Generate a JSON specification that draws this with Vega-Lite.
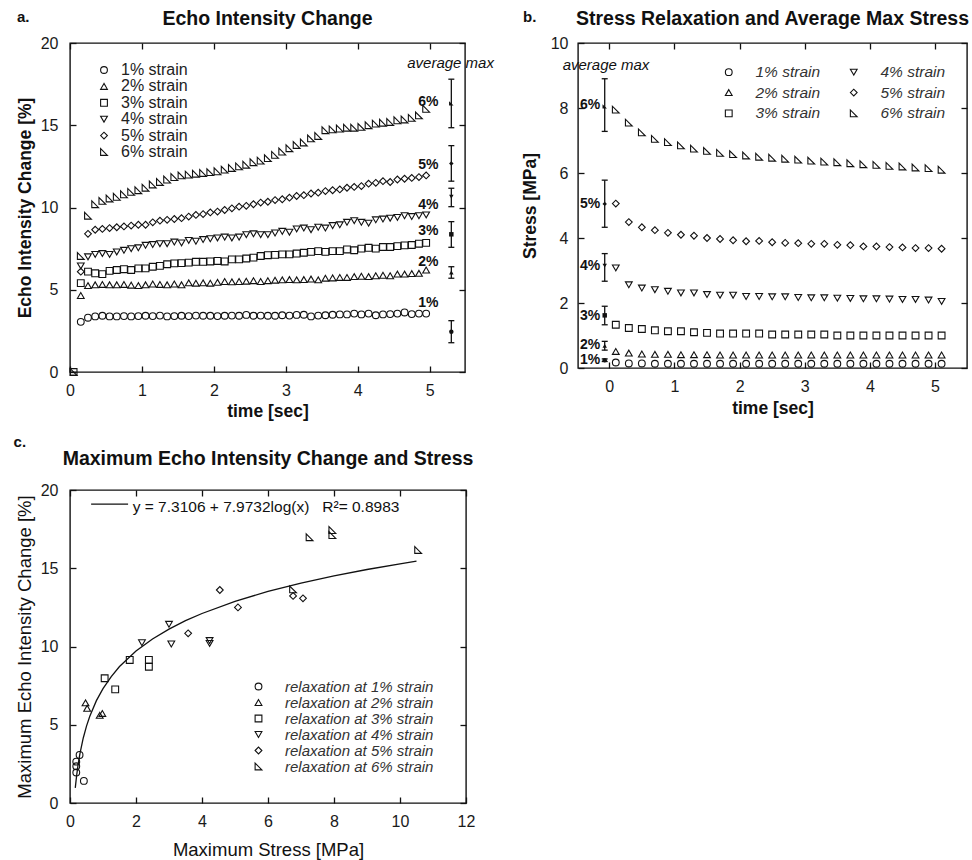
{
"$schema":"https://vega.github.io/schema/vega-lite/v6.json",
"padding":{"left":12,"top":8,"right":0,"bottom":0},
"config":{
"font":"Liberation Sans",
"view":{"stroke":"#111","strokeWidth":1.4},
"axis":{"grid":false,"domain":false,"ticks":true,"tickSize":-6,"tickColor":"#111","tickWidth":1.3,"labelFontSize":16,"labelColor":"#1a1a1a","labelPadding":16,"labelFlush":false,"titleFontSize":17.5,"titleColor":"#111","titleFontWeight":"bold"},
"title":{"fontSize":19.5,"fontWeight":"bold","color":"#111","font":"Liberation Sans"},
"legend":{"title":null,"orient":"none","padding":0,"symbolSize":46,"symbolStrokeWidth":1.1,"symbolStrokeColor":"#111","labelFont":"Liberation Sans"}
},
"datasets":{
"echo":[
{"t":0.05,"v":0,"s":"3% strain"},{"t":0.05,"v":0,"s":"6% strain"},
{"t":0.15,"v":3.05,"s":"1% strain"},{"t":0.25,"v":3.3,"s":"1% strain"},{"t":0.35,"v":3.38,"s":"1% strain"},{"t":0.45,"v":3.42,"s":"1% strain"},{"t":0.55,"v":3.38,"s":"1% strain"},{"t":0.65,"v":3.38,"s":"1% strain"},{"t":0.75,"v":3.4,"s":"1% strain"},{"t":0.85,"v":3.38,"s":"1% strain"},{"t":0.95,"v":3.4,"s":"1% strain"},{"t":1.05,"v":3.42,"s":"1% strain"},
{"t":1.15,"v":3.4,"s":"1% strain"},{"t":1.25,"v":3.43,"s":"1% strain"},{"t":1.35,"v":3.38,"s":"1% strain"},{"t":1.45,"v":3.4,"s":"1% strain"},{"t":1.55,"v":3.42,"s":"1% strain"},{"t":1.65,"v":3.4,"s":"1% strain"},{"t":1.75,"v":3.43,"s":"1% strain"},{"t":1.85,"v":3.42,"s":"1% strain"},{"t":1.95,"v":3.42,"s":"1% strain"},{"t":2.05,"v":3.4,"s":"1% strain"},
{"t":2.15,"v":3.42,"s":"1% strain"},{"t":2.25,"v":3.43,"s":"1% strain"},{"t":2.35,"v":3.42,"s":"1% strain"},{"t":2.45,"v":3.47,"s":"1% strain"},{"t":2.55,"v":3.42,"s":"1% strain"},{"t":2.65,"v":3.43,"s":"1% strain"},{"t":2.75,"v":3.42,"s":"1% strain"},{"t":2.85,"v":3.42,"s":"1% strain"},{"t":2.95,"v":3.45,"s":"1% strain"},{"t":3.05,"v":3.43,"s":"1% strain"},
{"t":3.15,"v":3.47,"s":"1% strain"},{"t":3.25,"v":3.48,"s":"1% strain"},{"t":3.35,"v":3.38,"s":"1% strain"},{"t":3.45,"v":3.43,"s":"1% strain"},{"t":3.55,"v":3.45,"s":"1% strain"},{"t":3.65,"v":3.48,"s":"1% strain"},{"t":3.75,"v":3.5,"s":"1% strain"},{"t":3.85,"v":3.5,"s":"1% strain"},{"t":3.95,"v":3.55,"s":"1% strain"},{"t":4.05,"v":3.5,"s":"1% strain"},
{"t":4.15,"v":3.55,"s":"1% strain"},{"t":4.25,"v":3.45,"s":"1% strain"},{"t":4.35,"v":3.5,"s":"1% strain"},{"t":4.45,"v":3.52,"s":"1% strain"},{"t":4.55,"v":3.55,"s":"1% strain"},{"t":4.65,"v":3.62,"s":"1% strain"},{"t":4.75,"v":3.52,"s":"1% strain"},{"t":4.85,"v":3.55,"s":"1% strain"},{"t":4.95,"v":3.55,"s":"1% strain"},
{"t":0.15,"v":4.65,"s":"2% strain"},{"t":0.25,"v":5.25,"s":"2% strain"},{"t":0.35,"v":5.3,"s":"2% strain"},{"t":0.45,"v":5.32,"s":"2% strain"},{"t":0.55,"v":5.3,"s":"2% strain"},{"t":0.65,"v":5.3,"s":"2% strain"},{"t":0.75,"v":5.32,"s":"2% strain"},{"t":0.85,"v":5.28,"s":"2% strain"},{"t":0.95,"v":5.25,"s":"2% strain"},{"t":1.05,"v":5.3,"s":"2% strain"},
{"t":1.15,"v":5.35,"s":"2% strain"},{"t":1.25,"v":5.32,"s":"2% strain"},{"t":1.35,"v":5.3,"s":"2% strain"},{"t":1.45,"v":5.35,"s":"2% strain"},{"t":1.55,"v":5.3,"s":"2% strain"},{"t":1.65,"v":5.42,"s":"2% strain"},{"t":1.75,"v":5.4,"s":"2% strain"},{"t":1.85,"v":5.42,"s":"2% strain"},{"t":1.95,"v":5.4,"s":"2% strain"},{"t":2.05,"v":5.45,"s":"2% strain"},
{"t":2.15,"v":5.5,"s":"2% strain"},{"t":2.25,"v":5.48,"s":"2% strain"},{"t":2.35,"v":5.5,"s":"2% strain"},{"t":2.45,"v":5.52,"s":"2% strain"},{"t":2.55,"v":5.55,"s":"2% strain"},{"t":2.65,"v":5.5,"s":"2% strain"},{"t":2.75,"v":5.55,"s":"2% strain"},{"t":2.85,"v":5.58,"s":"2% strain"},{"t":2.95,"v":5.6,"s":"2% strain"},{"t":3.05,"v":5.62,"s":"2% strain"},
{"t":3.15,"v":5.6,"s":"2% strain"},{"t":3.25,"v":5.62,"s":"2% strain"},{"t":3.35,"v":5.65,"s":"2% strain"},{"t":3.45,"v":5.6,"s":"2% strain"},{"t":3.55,"v":5.7,"s":"2% strain"},{"t":3.65,"v":5.72,"s":"2% strain"},{"t":3.75,"v":5.75,"s":"2% strain"},{"t":3.85,"v":5.75,"s":"2% strain"},{"t":3.95,"v":5.8,"s":"2% strain"},{"t":4.05,"v":5.82,"s":"2% strain"},
{"t":4.15,"v":5.8,"s":"2% strain"},{"t":4.25,"v":5.85,"s":"2% strain"},{"t":4.35,"v":5.88,"s":"2% strain"},{"t":4.45,"v":5.85,"s":"2% strain"},{"t":4.55,"v":5.95,"s":"2% strain"},{"t":4.65,"v":5.95,"s":"2% strain"},{"t":4.75,"v":5.98,"s":"2% strain"},{"t":4.85,"v":6.0,"s":"2% strain"},{"t":4.95,"v":6.2,"s":"2% strain"},
{"t":0.15,"v":5.4,"s":"3% strain"},{"t":0.25,"v":6.1,"s":"3% strain"},{"t":0.35,"v":6.0,"s":"3% strain"},{"t":0.45,"v":5.95,"s":"3% strain"},{"t":0.55,"v":6.15,"s":"3% strain"},{"t":0.65,"v":6.2,"s":"3% strain"},{"t":0.75,"v":6.25,"s":"3% strain"},{"t":0.85,"v":6.2,"s":"3% strain"},{"t":0.95,"v":6.3,"s":"3% strain"},{"t":1.05,"v":6.3,"s":"3% strain"},
{"t":1.15,"v":6.4,"s":"3% strain"},{"t":1.25,"v":6.45,"s":"3% strain"},{"t":1.35,"v":6.55,"s":"3% strain"},{"t":1.45,"v":6.6,"s":"3% strain"},{"t":1.55,"v":6.62,"s":"3% strain"},{"t":1.65,"v":6.65,"s":"3% strain"},{"t":1.75,"v":6.7,"s":"3% strain"},{"t":1.85,"v":6.7,"s":"3% strain"},{"t":1.95,"v":6.72,"s":"3% strain"},{"t":2.05,"v":6.75,"s":"3% strain"},
{"t":2.15,"v":6.72,"s":"3% strain"},{"t":2.25,"v":6.85,"s":"3% strain"},{"t":2.35,"v":6.85,"s":"3% strain"},{"t":2.45,"v":6.9,"s":"3% strain"},{"t":2.55,"v":6.95,"s":"3% strain"},{"t":2.65,"v":7.05,"s":"3% strain"},{"t":2.75,"v":7.1,"s":"3% strain"},{"t":2.85,"v":7.12,"s":"3% strain"},{"t":2.95,"v":7.15,"s":"3% strain"},{"t":3.05,"v":7.15,"s":"3% strain"},
{"t":3.15,"v":7.2,"s":"3% strain"},{"t":3.25,"v":7.25,"s":"3% strain"},{"t":3.35,"v":7.3,"s":"3% strain"},{"t":3.45,"v":7.35,"s":"3% strain"},{"t":3.55,"v":7.3,"s":"3% strain"},{"t":3.65,"v":7.35,"s":"3% strain"},{"t":3.75,"v":7.35,"s":"3% strain"},{"t":3.85,"v":7.45,"s":"3% strain"},{"t":3.95,"v":7.4,"s":"3% strain"},{"t":4.05,"v":7.5,"s":"3% strain"},
{"t":4.15,"v":7.55,"s":"3% strain"},{"t":4.25,"v":7.5,"s":"3% strain"},{"t":4.35,"v":7.6,"s":"3% strain"},{"t":4.45,"v":7.6,"s":"3% strain"},{"t":4.55,"v":7.65,"s":"3% strain"},{"t":4.65,"v":7.7,"s":"3% strain"},{"t":4.75,"v":7.72,"s":"3% strain"},{"t":4.85,"v":7.8,"s":"3% strain"},{"t":4.95,"v":7.85,"s":"3% strain"},
{"t":0.15,"v":6.45,"s":"4% strain"},{"t":0.25,"v":7.0,"s":"4% strain"},{"t":0.35,"v":7.15,"s":"4% strain"},{"t":0.45,"v":7.2,"s":"4% strain"},{"t":0.55,"v":7.15,"s":"4% strain"},{"t":0.65,"v":7.3,"s":"4% strain"},{"t":0.75,"v":7.4,"s":"4% strain"},{"t":0.85,"v":7.5,"s":"4% strain"},{"t":0.95,"v":7.55,"s":"4% strain"},{"t":1.05,"v":7.7,"s":"4% strain"},
{"t":1.15,"v":7.75,"s":"4% strain"},{"t":1.25,"v":7.8,"s":"4% strain"},{"t":1.35,"v":7.8,"s":"4% strain"},{"t":1.45,"v":7.9,"s":"4% strain"},{"t":1.55,"v":7.85,"s":"4% strain"},{"t":1.65,"v":8.0,"s":"4% strain"},{"t":1.75,"v":7.95,"s":"4% strain"},{"t":1.85,"v":8.05,"s":"4% strain"},{"t":1.95,"v":8.1,"s":"4% strain"},{"t":2.05,"v":8.15,"s":"4% strain"},
{"t":2.15,"v":8.2,"s":"4% strain"},{"t":2.25,"v":8.15,"s":"4% strain"},{"t":2.35,"v":8.2,"s":"4% strain"},{"t":2.45,"v":8.35,"s":"4% strain"},{"t":2.55,"v":8.4,"s":"4% strain"},{"t":2.65,"v":8.35,"s":"4% strain"},{"t":2.75,"v":8.35,"s":"4% strain"},{"t":2.85,"v":8.45,"s":"4% strain"},{"t":2.95,"v":8.55,"s":"4% strain"},{"t":3.05,"v":8.5,"s":"4% strain"},
{"t":3.15,"v":8.7,"s":"4% strain"},{"t":3.25,"v":8.75,"s":"4% strain"},{"t":3.35,"v":8.65,"s":"4% strain"},{"t":3.45,"v":8.8,"s":"4% strain"},{"t":3.55,"v":8.75,"s":"4% strain"},{"t":3.65,"v":8.9,"s":"4% strain"},{"t":3.75,"v":8.95,"s":"4% strain"},{"t":3.85,"v":9.1,"s":"4% strain"},{"t":3.95,"v":9.2,"s":"4% strain"},{"t":4.05,"v":9.1,"s":"4% strain"},
{"t":4.15,"v":9.05,"s":"4% strain"},{"t":4.25,"v":9.25,"s":"4% strain"},{"t":4.35,"v":9.3,"s":"4% strain"},{"t":4.45,"v":9.35,"s":"4% strain"},{"t":4.55,"v":9.4,"s":"4% strain"},{"t":4.65,"v":9.5,"s":"4% strain"},{"t":4.75,"v":9.45,"s":"4% strain"},{"t":4.85,"v":9.5,"s":"4% strain"},{"t":4.95,"v":9.55,"s":"4% strain"},
{"t":0.15,"v":6.1,"s":"5% strain"},{"t":0.25,"v":8.4,"s":"5% strain"},{"t":0.35,"v":8.65,"s":"5% strain"},{"t":0.45,"v":8.7,"s":"5% strain"},{"t":0.55,"v":8.75,"s":"5% strain"},{"t":0.65,"v":8.8,"s":"5% strain"},{"t":0.75,"v":8.85,"s":"5% strain"},{"t":0.85,"v":8.9,"s":"5% strain"},{"t":0.95,"v":8.95,"s":"5% strain"},{"t":1.05,"v":8.95,"s":"5% strain"},
{"t":1.15,"v":9.1,"s":"5% strain"},{"t":1.25,"v":9.2,"s":"5% strain"},{"t":1.35,"v":9.25,"s":"5% strain"},{"t":1.45,"v":9.3,"s":"5% strain"},{"t":1.55,"v":9.35,"s":"5% strain"},{"t":1.65,"v":9.45,"s":"5% strain"},{"t":1.75,"v":9.55,"s":"5% strain"},{"t":1.85,"v":9.6,"s":"5% strain"},{"t":1.95,"v":9.7,"s":"5% strain"},{"t":2.05,"v":9.75,"s":"5% strain"},
{"t":2.15,"v":9.85,"s":"5% strain"},{"t":2.25,"v":9.95,"s":"5% strain"},{"t":2.35,"v":10.05,"s":"5% strain"},{"t":2.45,"v":10.1,"s":"5% strain"},{"t":2.55,"v":10.2,"s":"5% strain"},{"t":2.65,"v":10.3,"s":"5% strain"},{"t":2.75,"v":10.35,"s":"5% strain"},{"t":2.85,"v":10.45,"s":"5% strain"},{"t":2.95,"v":10.5,"s":"5% strain"},{"t":3.05,"v":10.6,"s":"5% strain"},
{"t":3.15,"v":10.7,"s":"5% strain"},{"t":3.25,"v":10.75,"s":"5% strain"},{"t":3.35,"v":10.85,"s":"5% strain"},{"t":3.45,"v":10.9,"s":"5% strain"},{"t":3.55,"v":11.0,"s":"5% strain"},{"t":3.65,"v":11.05,"s":"5% strain"},{"t":3.75,"v":11.1,"s":"5% strain"},{"t":3.85,"v":11.2,"s":"5% strain"},{"t":3.95,"v":11.25,"s":"5% strain"},{"t":4.05,"v":11.3,"s":"5% strain"},
{"t":4.15,"v":11.45,"s":"5% strain"},{"t":4.25,"v":11.5,"s":"5% strain"},{"t":4.35,"v":11.6,"s":"5% strain"},{"t":4.45,"v":11.55,"s":"5% strain"},{"t":4.55,"v":11.7,"s":"5% strain"},{"t":4.65,"v":11.75,"s":"5% strain"},{"t":4.75,"v":11.8,"s":"5% strain"},{"t":4.85,"v":11.85,"s":"5% strain"},{"t":4.95,"v":11.95,"s":"5% strain"},
{"t":0.15,"v":7.05,"s":"6% strain"},{"t":0.25,"v":9.5,"s":"6% strain"},{"t":0.35,"v":10.2,"s":"6% strain"},{"t":0.45,"v":10.4,"s":"6% strain"},{"t":0.55,"v":10.55,"s":"6% strain"},{"t":0.65,"v":10.65,"s":"6% strain"},{"t":0.75,"v":10.8,"s":"6% strain"},{"t":0.85,"v":10.95,"s":"6% strain"},{"t":0.95,"v":11.05,"s":"6% strain"},{"t":1.05,"v":11.2,"s":"6% strain"},
{"t":1.15,"v":11.4,"s":"6% strain"},{"t":1.25,"v":11.55,"s":"6% strain"},{"t":1.35,"v":11.7,"s":"6% strain"},{"t":1.45,"v":11.85,"s":"6% strain"},{"t":1.55,"v":11.95,"s":"6% strain"},{"t":1.65,"v":12.0,"s":"6% strain"},{"t":1.75,"v":12.05,"s":"6% strain"},{"t":1.85,"v":12.1,"s":"6% strain"},{"t":1.95,"v":12.15,"s":"6% strain"},{"t":2.05,"v":12.2,"s":"6% strain"},
{"t":2.15,"v":12.3,"s":"6% strain"},{"t":2.25,"v":12.4,"s":"6% strain"},{"t":2.35,"v":12.5,"s":"6% strain"},{"t":2.45,"v":12.6,"s":"6% strain"},{"t":2.55,"v":12.75,"s":"6% strain"},{"t":2.65,"v":12.85,"s":"6% strain"},{"t":2.75,"v":13.0,"s":"6% strain"},{"t":2.85,"v":13.2,"s":"6% strain"},{"t":2.95,"v":13.4,"s":"6% strain"},{"t":3.05,"v":13.6,"s":"6% strain"},
{"t":3.15,"v":13.8,"s":"6% strain"},{"t":3.25,"v":13.95,"s":"6% strain"},{"t":3.35,"v":14.2,"s":"6% strain"},{"t":3.45,"v":14.35,"s":"6% strain"},{"t":3.55,"v":14.7,"s":"6% strain"},{"t":3.65,"v":14.75,"s":"6% strain"},{"t":3.75,"v":14.8,"s":"6% strain"},{"t":3.85,"v":14.85,"s":"6% strain"},{"t":3.95,"v":14.85,"s":"6% strain"},{"t":4.05,"v":14.9,"s":"6% strain"},
{"t":4.15,"v":15.0,"s":"6% strain"},{"t":4.25,"v":15.1,"s":"6% strain"},{"t":4.35,"v":15.15,"s":"6% strain"},{"t":4.45,"v":15.2,"s":"6% strain"},{"t":4.55,"v":15.3,"s":"6% strain"},{"t":4.65,"v":15.35,"s":"6% strain"},{"t":4.75,"v":15.45,"s":"6% strain"},{"t":4.85,"v":15.6,"s":"6% strain"},{"t":4.95,"v":16.0,"s":"6% strain"}
],
"echoMax":[
{"s":"1% strain","lab":"1%","m":2.45,"lo":1.78,"hi":3.12,"ly":4.18},
{"s":"2% strain","lab":"2%","m":6.05,"lo":5.7,"hi":6.4,"ly":6.71},
{"s":"3% strain","lab":"3%","m":8.37,"lo":7.58,"hi":9.14,"ly":8.59},
{"s":"4% strain","lab":"4%","m":10.65,"lo":10.05,"hi":11.17,"ly":10.15},
{"s":"5% strain","lab":"5%","m":12.68,"lo":11.6,"hi":13.76,"ly":12.58},
{"s":"6% strain","lab":"6%","m":16.33,"lo":14.85,"hi":17.8,"ly":16.43}
],
"stress":[
{"t":0.1,"v":0.17,"s":"1% strain"},{"t":0.3,"v":0.14,"s":"1% strain"},{"t":0.5,"v":0.14,"s":"1% strain"},{"t":0.7,"v":0.13,"s":"1% strain"},{"t":0.9,"v":0.13,"s":"1% strain"},{"t":1.1,"v":0.13,"s":"1% strain"},{"t":1.3,"v":0.13,"s":"1% strain"},{"t":1.5,"v":0.13,"s":"1% strain"},{"t":1.7,"v":0.13,"s":"1% strain"},{"t":1.9,"v":0.13,"s":"1% strain"},{"t":2.1,"v":0.13,"s":"1% strain"},{"t":2.3,"v":0.13,"s":"1% strain"},{"t":2.5,"v":0.13,"s":"1% strain"},{"t":2.7,"v":0.13,"s":"1% strain"},{"t":2.9,"v":0.13,"s":"1% strain"},{"t":3.1,"v":0.13,"s":"1% strain"},{"t":3.3,"v":0.13,"s":"1% strain"},{"t":3.5,"v":0.13,"s":"1% strain"},{"t":3.7,"v":0.13,"s":"1% strain"},{"t":3.9,"v":0.13,"s":"1% strain"},{"t":4.1,"v":0.13,"s":"1% strain"},{"t":4.3,"v":0.13,"s":"1% strain"},{"t":4.5,"v":0.13,"s":"1% strain"},{"t":4.7,"v":0.13,"s":"1% strain"},{"t":4.9,"v":0.13,"s":"1% strain"},{"t":5.1,"v":0.13,"s":"1% strain"},
{"t":0.1,"v":0.51,"s":"2% strain"},{"t":0.3,"v":0.46,"s":"2% strain"},{"t":0.5,"v":0.43,"s":"2% strain"},{"t":0.7,"v":0.42,"s":"2% strain"},{"t":0.9,"v":0.42,"s":"2% strain"},{"t":1.1,"v":0.41,"s":"2% strain"},{"t":1.3,"v":0.41,"s":"2% strain"},{"t":1.5,"v":0.41,"s":"2% strain"},{"t":1.7,"v":0.4,"s":"2% strain"},{"t":1.9,"v":0.4,"s":"2% strain"},{"t":2.1,"v":0.4,"s":"2% strain"},{"t":2.3,"v":0.4,"s":"2% strain"},{"t":2.5,"v":0.4,"s":"2% strain"},{"t":2.7,"v":0.4,"s":"2% strain"},{"t":2.9,"v":0.4,"s":"2% strain"},{"t":3.1,"v":0.4,"s":"2% strain"},{"t":3.3,"v":0.4,"s":"2% strain"},{"t":3.5,"v":0.4,"s":"2% strain"},{"t":3.7,"v":0.4,"s":"2% strain"},{"t":3.9,"v":0.4,"s":"2% strain"},{"t":4.1,"v":0.4,"s":"2% strain"},{"t":4.3,"v":0.4,"s":"2% strain"},{"t":4.5,"v":0.4,"s":"2% strain"},{"t":4.7,"v":0.4,"s":"2% strain"},{"t":4.9,"v":0.4,"s":"2% strain"},{"t":5.1,"v":0.4,"s":"2% strain"},
{"t":0.1,"v":1.33,"s":"3% strain"},{"t":0.3,"v":1.23,"s":"3% strain"},{"t":0.5,"v":1.2,"s":"3% strain"},{"t":0.7,"v":1.16,"s":"3% strain"},{"t":0.9,"v":1.13,"s":"3% strain"},{"t":1.1,"v":1.13,"s":"3% strain"},{"t":1.3,"v":1.1,"s":"3% strain"},{"t":1.5,"v":1.08,"s":"3% strain"},{"t":1.7,"v":1.06,"s":"3% strain"},{"t":1.9,"v":1.06,"s":"3% strain"},{"t":2.1,"v":1.06,"s":"3% strain"},{"t":2.3,"v":1.06,"s":"3% strain"},{"t":2.5,"v":1.03,"s":"3% strain"},{"t":2.7,"v":1.03,"s":"3% strain"},{"t":2.9,"v":1.03,"s":"3% strain"},{"t":3.1,"v":1.03,"s":"3% strain"},{"t":3.3,"v":1.03,"s":"3% strain"},{"t":3.5,"v":1.0,"s":"3% strain"},{"t":3.7,"v":1.0,"s":"3% strain"},{"t":3.9,"v":1.0,"s":"3% strain"},{"t":4.1,"v":1.0,"s":"3% strain"},{"t":4.3,"v":1.0,"s":"3% strain"},{"t":4.5,"v":1.0,"s":"3% strain"},{"t":4.7,"v":1.0,"s":"3% strain"},{"t":4.9,"v":1.0,"s":"3% strain"},{"t":5.1,"v":1.0,"s":"3% strain"},
{"t":0.1,"v":3.08,"s":"4% strain"},{"t":0.3,"v":2.56,"s":"4% strain"},{"t":0.5,"v":2.46,"s":"4% strain"},{"t":0.7,"v":2.41,"s":"4% strain"},{"t":0.9,"v":2.36,"s":"4% strain"},{"t":1.1,"v":2.31,"s":"4% strain"},{"t":1.3,"v":2.31,"s":"4% strain"},{"t":1.5,"v":2.26,"s":"4% strain"},{"t":1.7,"v":2.24,"s":"4% strain"},{"t":1.9,"v":2.24,"s":"4% strain"},{"t":2.1,"v":2.2,"s":"4% strain"},{"t":2.3,"v":2.2,"s":"4% strain"},{"t":2.5,"v":2.19,"s":"4% strain"},{"t":2.7,"v":2.19,"s":"4% strain"},{"t":2.9,"v":2.17,"s":"4% strain"},{"t":3.1,"v":2.16,"s":"4% strain"},{"t":3.3,"v":2.16,"s":"4% strain"},{"t":3.5,"v":2.15,"s":"4% strain"},{"t":3.7,"v":2.14,"s":"4% strain"},{"t":3.9,"v":2.13,"s":"4% strain"},{"t":4.1,"v":2.13,"s":"4% strain"},{"t":4.3,"v":2.12,"s":"4% strain"},{"t":4.5,"v":2.11,"s":"4% strain"},{"t":4.7,"v":2.11,"s":"4% strain"},{"t":4.9,"v":2.09,"s":"4% strain"},{"t":5.1,"v":2.05,"s":"4% strain"},
{"t":0.1,"v":5.06,"s":"5% strain"},{"t":0.3,"v":4.49,"s":"5% strain"},{"t":0.5,"v":4.33,"s":"5% strain"},{"t":0.7,"v":4.24,"s":"5% strain"},{"t":0.9,"v":4.16,"s":"5% strain"},{"t":1.1,"v":4.1,"s":"5% strain"},{"t":1.3,"v":4.07,"s":"5% strain"},{"t":1.5,"v":4.0,"s":"5% strain"},{"t":1.7,"v":3.97,"s":"5% strain"},{"t":1.9,"v":3.93,"s":"5% strain"},{"t":2.1,"v":3.9,"s":"5% strain"},{"t":2.3,"v":3.91,"s":"5% strain"},{"t":2.5,"v":3.87,"s":"5% strain"},{"t":2.7,"v":3.85,"s":"5% strain"},{"t":2.9,"v":3.84,"s":"5% strain"},{"t":3.1,"v":3.82,"s":"5% strain"},{"t":3.3,"v":3.82,"s":"5% strain"},{"t":3.5,"v":3.79,"s":"5% strain"},{"t":3.7,"v":3.78,"s":"5% strain"},{"t":3.9,"v":3.74,"s":"5% strain"},{"t":4.1,"v":3.74,"s":"5% strain"},{"t":4.3,"v":3.72,"s":"5% strain"},{"t":4.5,"v":3.71,"s":"5% strain"},{"t":4.7,"v":3.69,"s":"5% strain"},{"t":4.9,"v":3.69,"s":"5% strain"},{"t":5.1,"v":3.67,"s":"5% strain"},
{"t":0.1,"v":7.95,"s":"6% strain"},{"t":0.3,"v":7.55,"s":"6% strain"},{"t":0.5,"v":7.25,"s":"6% strain"},{"t":0.7,"v":7.05,"s":"6% strain"},{"t":0.9,"v":6.95,"s":"6% strain"},{"t":1.1,"v":6.85,"s":"6% strain"},{"t":1.3,"v":6.75,"s":"6% strain"},{"t":1.5,"v":6.68,"s":"6% strain"},{"t":1.7,"v":6.62,"s":"6% strain"},{"t":1.9,"v":6.58,"s":"6% strain"},{"t":2.1,"v":6.54,"s":"6% strain"},{"t":2.3,"v":6.5,"s":"6% strain"},{"t":2.5,"v":6.47,"s":"6% strain"},{"t":2.7,"v":6.44,"s":"6% strain"},{"t":2.9,"v":6.41,"s":"6% strain"},{"t":3.1,"v":6.38,"s":"6% strain"},{"t":3.3,"v":6.35,"s":"6% strain"},{"t":3.5,"v":6.33,"s":"6% strain"},{"t":3.7,"v":6.3,"s":"6% strain"},{"t":3.9,"v":6.27,"s":"6% strain"},{"t":4.1,"v":6.25,"s":"6% strain"},{"t":4.3,"v":6.22,"s":"6% strain"},{"t":4.5,"v":6.2,"s":"6% strain"},{"t":4.7,"v":6.17,"s":"6% strain"},{"t":4.9,"v":6.15,"s":"6% strain"},{"t":5.1,"v":6.1,"s":"6% strain"}
],
"stressMax":[
{"s":"1% strain","lab":"1%","m":0.24,"lo":0.2,"hi":0.28,"ly":0.24},
{"s":"2% strain","lab":"2%","m":0.68,"lo":0.55,"hi":0.82,"ly":0.7},
{"s":"3% strain","lab":"3%","m":1.62,"lo":1.33,"hi":1.9,"ly":1.6},
{"s":"4% strain","lab":"4%","m":3.15,"lo":2.67,"hi":3.52,"ly":3.15},
{"s":"5% strain","lab":"5%","m":5.05,"lo":4.33,"hi":5.78,"ly":5.05},
{"s":"6% strain","lab":"6%","m":8.05,"lo":7.28,"hi":8.9,"ly":8.08}
],
"scatter":[
{"x":0.29,"y":3.07,"s":"relaxation at 1% strain"},{"x":0.19,"y":2.64,"s":"relaxation at 1% strain"},{"x":0.19,"y":2.35,"s":"relaxation at 1% strain"},{"x":0.19,"y":1.95,"s":"relaxation at 1% strain"},{"x":0.42,"y":1.41,"s":"relaxation at 1% strain"},
{"x":0.47,"y":6.4,"s":"relaxation at 2% strain"},{"x":0.52,"y":6.05,"s":"relaxation at 2% strain"},{"x":0.9,"y":5.6,"s":"relaxation at 2% strain"},{"x":0.98,"y":5.72,"s":"relaxation at 2% strain"},
{"x":1.05,"y":7.97,"s":"relaxation at 3% strain"},{"x":1.37,"y":7.26,"s":"relaxation at 3% strain"},{"x":1.81,"y":9.14,"s":"relaxation at 3% strain"},{"x":2.39,"y":9.14,"s":"relaxation at 3% strain"},{"x":2.39,"y":8.71,"s":"relaxation at 3% strain"},
{"x":2.18,"y":10.24,"s":"relaxation at 4% strain"},{"x":3.0,"y":11.42,"s":"relaxation at 4% strain"},{"x":3.07,"y":10.16,"s":"relaxation at 4% strain"},{"x":4.23,"y":10.38,"s":"relaxation at 4% strain"},{"x":4.23,"y":10.2,"s":"relaxation at 4% strain"},
{"x":3.58,"y":10.84,"s":"relaxation at 5% strain"},{"x":4.54,"y":13.61,"s":"relaxation at 5% strain"},{"x":5.09,"y":12.5,"s":"relaxation at 5% strain"},{"x":6.76,"y":13.23,"s":"relaxation at 5% strain"},{"x":7.06,"y":13.08,"s":"relaxation at 5% strain"},
{"x":6.76,"y":13.65,"s":"relaxation at 6% strain"},{"x":7.26,"y":16.98,"s":"relaxation at 6% strain"},{"x":7.95,"y":17.44,"s":"relaxation at 6% strain"},{"x":7.95,"y":17.12,"s":"relaxation at 6% strain"},{"x":10.55,"y":16.17,"s":"relaxation at 6% strain"}
],
"fit":[
{"x":0.16,"y":0.97},{"x":0.2,"y":1.74},{"x":0.25,"y":2.51},{"x":0.3,"y":3.14},{"x":0.4,"y":4.14},{"x":0.5,"y":4.91},{"x":0.6,"y":5.54},{"x":0.8,"y":6.54},{"x":1,"y":7.31},{"x":1.25,"y":8.08},{"x":1.5,"y":8.72},{"x":2,"y":9.71},{"x":2.5,"y":10.48},{"x":3,"y":11.11},{"x":3.5,"y":11.65},{"x":4,"y":12.11},{"x":5,"y":12.88},{"x":6,"y":13.52},{"x":7,"y":14.05},{"x":8,"y":14.51},{"x":9,"y":14.92},{"x":10,"y":15.28},{"x":10.5,"y":15.45}
]
},
"columns":2,
"bounds":"flush",
"spacing":{"row":118,"column":112},
"resolve":{"scale":{"shape":"independent"},"legend":{"shape":"independent"}},
"concat":[
{
"width":395,"height":329,
"title":{"text":"Echo Intensity Change","offset":-20},
"resolve":{"axis":{"x":"independent","y":"independent"}},
"layer":[
{"data":{"name":"echo"},
"mark":{"type":"point","filled":false,"size":46,"color":"#111","strokeWidth":1.1,"opacity":1},
"encoding":{
"x":{"field":"t","type":"quantitative","scale":{"domain":[0,5.49],"nice":false,"zero":false},"axis":{"orient":"bottom","title":"time [sec]","values":[0,1,2,3,4,5],"titlePadding":4}},
"y":{"field":"v","type":"quantitative","scale":{"domain":[0,20],"nice":false,"zero":false},"axis":{"orient":"left","title":"Echo Intensity Change [%]","values":[0,5,10,15,20],"labelPadding":18,"titlePadding":6}},
"shape":{"field":"s","type":"nominal","scale":{"domain":["1% strain","2% strain","3% strain","4% strain","5% strain","6% strain"],"range":["circle","triangle-up","square","triangle-down","diamond","M -1 -1 L -1 1 L 1 1 Z"]},
"legend":{"legendX":26,"legendY":19,"labelFontSize":16,"labelColor":"#222","labelOffset":9,"rowPadding":0.4}}
}},
{"data":{"name":"echoMax"},
"mark":{"type":"rule","color":"#111","strokeWidth":1.3},
"encoding":{
"x":{"datum":5.3,"type":"quantitative","scale":{"domain":[0,5.49],"nice":false,"zero":false},"axis":{"orient":"top","labels":false,"title":null,"values":[0,1,2,3,4,5]}},
"y":{"field":"lo","type":"quantitative","scale":{"domain":[0,20],"nice":false,"zero":false},"axis":{"orient":"right","labels":false,"title":null,"values":[0,5,10,15,20]}},
"y2":{"field":"hi"}
}},
{"data":{"name":"echoMax"},
"mark":{"type":"tick","orient":"horizontal","color":"#111","size":6,"thickness":1.3,"opacity":1},
"encoding":{
"x":{"datum":5.3,"type":"quantitative","scale":{"domain":[0,5.49],"nice":false,"zero":false},"axis":null},
"y":{"field":"lo","type":"quantitative","scale":{"domain":[0,20],"nice":false,"zero":false},"axis":null}
}},
{"data":{"name":"echoMax"},
"mark":{"type":"tick","orient":"horizontal","color":"#111","size":6,"thickness":1.3,"opacity":1},
"encoding":{
"x":{"datum":5.3,"type":"quantitative","scale":{"domain":[0,5.49],"nice":false,"zero":false},"axis":null},
"y":{"field":"hi","type":"quantitative","scale":{"domain":[0,20],"nice":false,"zero":false},"axis":null}
}},
{"data":{"name":"echoMax"},
"mark":{"type":"point","filled":true,"size":20,"color":"#111","opacity":1},
"encoding":{
"x":{"datum":5.3,"type":"quantitative","scale":{"domain":[0,5.49],"nice":false,"zero":false},"axis":null},
"y":{"field":"m","type":"quantitative","scale":{"domain":[0,20],"nice":false,"zero":false},"axis":null},
"shape":{"field":"s","type":"nominal","scale":{"domain":["1% strain","2% strain","3% strain","4% strain","5% strain","6% strain"],"range":["circle","triangle-up","square","triangle-down","diamond","M -1 -1 L -1 1 L 1 1 Z"]},"legend":null}
}},
{"data":{"name":"echoMax"},
"mark":{"type":"text","align":"right","baseline":"middle","fontWeight":"bold","fontSize":14,"color":"#111"},
"encoding":{
"x":{"datum":5.12,"type":"quantitative","scale":{"domain":[0,5.49],"nice":false,"zero":false},"axis":null},
"y":{"field":"ly","type":"quantitative","scale":{"domain":[0,20],"nice":false,"zero":false},"axis":null},
"text":{"field":"lab"}
}},
{"data":{"values":[{}]},
"mark":{"type":"text","text":"average max","fontStyle":"italic","fontSize":15,"align":"center","baseline":"middle","color":"#111"},
"encoding":{
"x":{"datum":5.29,"type":"quantitative","scale":{"domain":[0,5.49],"nice":false,"zero":false},"axis":null},
"y":{"datum":18.8,"type":"quantitative","scale":{"domain":[0,20],"nice":false,"zero":false},"axis":null}
}},
{"data":{"values":[{}]},
"mark":{"type":"text","text":"a.","fontWeight":"bold","fontSize":15,"align":"center","baseline":"middle","color":"#111"},
"encoding":{
"x":{"datum":-0.65,"type":"quantitative","scale":{"domain":[0,5.49],"nice":false,"zero":false},"axis":null},
"y":{"datum":21.6,"type":"quantitative","scale":{"domain":[0,20],"nice":false,"zero":false},"axis":null}
}}
]
},
{
"width":389,"height":325,
"title":{"text":"Stress Relaxation and Average Max Stress","offset":-20},
"resolve":{"axis":{"x":"independent","y":"independent"}},
"layer":[
{"data":{"name":"stress"},
"mark":{"type":"point","filled":false,"size":46,"color":"#111","strokeWidth":1.1,"opacity":1},
"encoding":{
"x":{"field":"t","type":"quantitative","scale":{"domain":[-0.48,5.49],"nice":false,"zero":false},"axis":{"orient":"bottom","title":"time [sec]","values":[0,1,2,3,4,5],"titlePadding":5}},
"y":{"field":"v","type":"quantitative","scale":{"domain":[0,10],"nice":false,"zero":false},"axis":{"orient":"left","title":"Stress [MPa]","values":[0,2,4,6,8,10],"titlePadding":11}},
"shape":{"field":"s","type":"nominal","scale":{"domain":["1% strain","2% strain","3% strain","4% strain","5% strain","6% strain"],"range":["circle","triangle-up","square","triangle-down","diamond","M -1 -1 L -1 1 L 1 1 Z"]},
"legend":{"legendX":143,"legendY":21,"columns":2,"columnPadding":25,"rowPadding":3.8,"labelFontSize":15.5,"labelFontStyle":"italic","labelColor":"#333","labelOffset":19}}
}},
{"data":{"name":"stressMax"},
"mark":{"type":"rule","color":"#111","strokeWidth":1.3},
"encoding":{
"x":{"datum":-0.07,"type":"quantitative","scale":{"domain":[-0.48,5.49],"nice":false,"zero":false},"axis":{"orient":"top","labels":false,"title":null,"values":[0,1,2,3,4,5]}},
"y":{"field":"lo","type":"quantitative","scale":{"domain":[0,10],"nice":false,"zero":false},"axis":{"orient":"right","labels":false,"title":null,"values":[0,2,4,6,8,10]}},
"y2":{"field":"hi"}
}},
{"data":{"name":"stressMax"},
"mark":{"type":"tick","orient":"horizontal","color":"#111","size":6,"thickness":1.3,"opacity":1},
"encoding":{
"x":{"datum":-0.07,"type":"quantitative","scale":{"domain":[-0.48,5.49],"nice":false,"zero":false},"axis":null},
"y":{"field":"lo","type":"quantitative","scale":{"domain":[0,10],"nice":false,"zero":false},"axis":null}
}},
{"data":{"name":"stressMax"},
"mark":{"type":"tick","orient":"horizontal","color":"#111","size":6,"thickness":1.3,"opacity":1},
"encoding":{
"x":{"datum":-0.07,"type":"quantitative","scale":{"domain":[-0.48,5.49],"nice":false,"zero":false},"axis":null},
"y":{"field":"hi","type":"quantitative","scale":{"domain":[0,10],"nice":false,"zero":false},"axis":null}
}},
{"data":{"name":"stressMax"},
"mark":{"type":"point","filled":true,"size":20,"color":"#111","opacity":1},
"encoding":{
"x":{"datum":-0.07,"type":"quantitative","scale":{"domain":[-0.48,5.49],"nice":false,"zero":false},"axis":null},
"y":{"field":"m","type":"quantitative","scale":{"domain":[0,10],"nice":false,"zero":false},"axis":null},
"shape":{"field":"s","type":"nominal","scale":{"domain":["1% strain","2% strain","3% strain","4% strain","5% strain","6% strain"],"range":["circle","triangle-up","square","triangle-down","diamond","M -1 -1 L -1 1 L 1 1 Z"]},"legend":null}
}},
{"data":{"name":"stressMax"},
"mark":{"type":"text","align":"right","baseline":"middle","fontWeight":"bold","fontSize":14,"color":"#111"},
"encoding":{
"x":{"datum":-0.14,"type":"quantitative","scale":{"domain":[-0.48,5.49],"nice":false,"zero":false},"axis":null},
"y":{"field":"ly","type":"quantitative","scale":{"domain":[0,10],"nice":false,"zero":false},"axis":null},
"text":{"field":"lab"}
}},
{"data":{"values":[{}]},
"mark":{"type":"text","text":"average max","fontStyle":"italic","fontSize":15,"align":"center","baseline":"middle","color":"#111"},
"encoding":{
"x":{"datum":-0.05,"type":"quantitative","scale":{"domain":[-0.48,5.49],"nice":false,"zero":false},"axis":null},
"y":{"datum":9.33,"type":"quantitative","scale":{"domain":[0,10],"nice":false,"zero":false},"axis":null}
}},
{"data":{"values":[{}]},
"mark":{"type":"text","text":"b.","fontWeight":"bold","fontSize":15,"align":"center","baseline":"middle","color":"#111"},
"encoding":{
"x":{"datum":-1.22,"type":"quantitative","scale":{"domain":[-0.48,5.49],"nice":false,"zero":false},"axis":null},
"y":{"datum":10.81,"type":"quantitative","scale":{"domain":[0,10],"nice":false,"zero":false},"axis":null}
}}
]
},
{
"width":396,"height":313,
"title":{"text":"Maximum Echo Intensity Change and Stress","offset":-35},
"resolve":{"axis":{"x":"independent","y":"independent"}},
"layer":[
{"data":{"name":"scatter"},
"mark":{"type":"point","filled":false,"size":46,"color":"#111","strokeWidth":1.1,"opacity":1},
"encoding":{
"x":{"field":"x","type":"quantitative","scale":{"domain":[0,12],"nice":false,"zero":false},"axis":{"orient":"bottom","title":"Maximum Stress [MPa]","values":[0,2,4,6,8,10,12],"titlePadding":11,"titleFontWeight":"normal","titleFontSize":18.5}},
"y":{"field":"y","type":"quantitative","scale":{"domain":[0,20],"nice":false,"zero":false},"axis":{"orient":"left","title":"Maximum Echo Intensity Change [%]","values":[0,5,10,15,20],"labelPadding":18,"titlePadding":6,"titleFontWeight":"normal","titleFontSize":18.5}},
"shape":{"field":"s","type":"nominal","scale":{"domain":["relaxation at 1% strain","relaxation at 2% strain","relaxation at 3% strain","relaxation at 4% strain","relaxation at 5% strain","relaxation at 6% strain"],"range":["circle","triangle-up","square","triangle-down","diamond","M -1 -1 L -1 1 L 1 1 Z"]},
"legend":{"legendX":181,"legendY":189,"labelFontSize":15,"labelFontStyle":"italic","labelColor":"#333","labelOffset":19,"rowPadding":-2}}
}},
{"data":{"name":"fit"},
"mark":{"type":"line","color":"#111","strokeWidth":1.3},
"encoding":{
"x":{"field":"x","type":"quantitative","scale":{"domain":[0,12],"nice":false,"zero":false},"axis":{"orient":"top","labels":false,"title":null,"values":[0,2,4,6,8,10,12]}},
"y":{"field":"y","type":"quantitative","scale":{"domain":[0,20],"nice":false,"zero":false},"axis":{"orient":"right","labels":false,"title":null,"values":[0,5,10,15,20]}}
}},
{"data":{"values":[{}]},
"mark":{"type":"rule","color":"#111","strokeWidth":1.3},
"encoding":{
"x":{"datum":0.64,"type":"quantitative","scale":{"domain":[0,12],"nice":false,"zero":false},"axis":null},
"x2":{"datum":1.76},
"y":{"datum":19.1,"type":"quantitative","scale":{"domain":[0,20],"nice":false,"zero":false},"axis":null}
}},
{"data":{"values":[{}]},
"mark":{"type":"text","text":"y = 7.3106 + 7.9732log(x)\u00a0\u00a0\u00a0R²= 0.8983","fontSize":15.5,"align":"left","baseline":"middle","color":"#111"},
"encoding":{
"x":{"datum":1.9,"type":"quantitative","scale":{"domain":[0,12],"nice":false,"zero":false},"axis":null},
"y":{"datum":18.9,"type":"quantitative","scale":{"domain":[0,20],"nice":false,"zero":false},"axis":null}
}},
{"data":{"values":[{}]},
"mark":{"type":"text","text":"c.","fontWeight":"bold","fontSize":15,"align":"center","baseline":"middle","color":"#111"},
"encoding":{
"x":{"datum":-1.52,"type":"quantitative","scale":{"domain":[0,12],"nice":false,"zero":false},"axis":null},
"y":{"datum":23.07,"type":"quantitative","scale":{"domain":[0,20],"nice":false,"zero":false},"axis":null}
}}
]
}
]
}
